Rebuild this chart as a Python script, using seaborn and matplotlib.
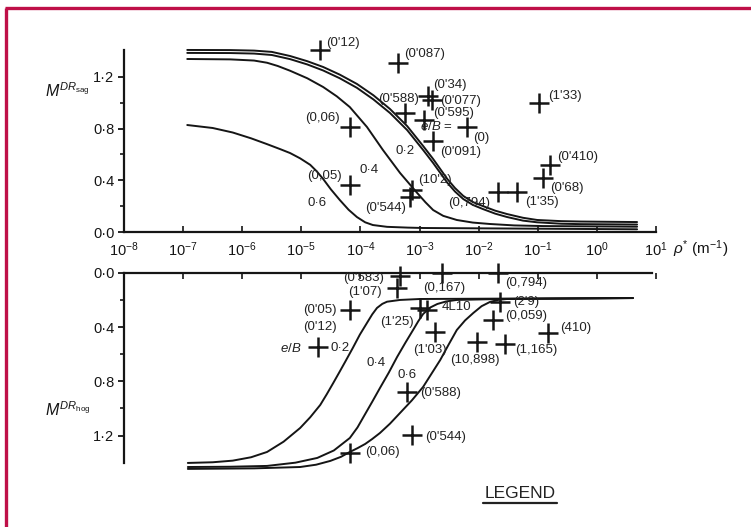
import numpy as np
import pandas as pd
import matplotlib
matplotlib.use("Agg")
import matplotlib.pyplot as plt
from matplotlib.lines import Line2D
from matplotlib.ticker import FixedLocator, FuncFormatter
import seaborn as sns

# ---------------- data (log10 rho*, M values) ----------------
decades = [-8, -7, -6, -5, -4, -3, -2, -1, 0, 1]
xtick_labels = [r"$10^{%d}$" % d for d in decades]

# sagging curves (upper panel)
sag_a_logx = [-6.93, -6.2, -5.8, -5.5, -5.19, -4.9, -4.63, -4.35, -4.06, -3.78, -3.50, -3.21, -2.94,
              -2.77, -2.53, -2.40, -2.26, -2.10, -1.93, -1.72, -1.52, -1.25, -1.01, -0.6, -0.28, 0.68]
sag_a_m = [1.409, 1.408, 1.404, 1.394, 1.362, 1.322, 1.277, 1.218, 1.146, 1.058, 0.952, 0.820, 0.666,
           0.565, 0.410, 0.340, 0.279, 0.232, 0.201, 0.165, 0.139, 0.110, 0.093, 0.084, 0.081, 0.077]
sag_b_logx = [-6.93, -6.2, -5.8, -5.5, -5.19, -4.9, -4.63, -4.35, -4.06, -3.78, -3.50, -3.21, -2.94,
              -2.77, -2.53, -2.40, -2.26, -2.10, -1.93, -1.72, -1.52, -1.25, -1.01, -0.6, -0.28, 0.68]
sag_b_m = [1.386, 1.385, 1.381, 1.370, 1.338, 1.297, 1.250, 1.190, 1.116, 1.026, 0.921, 0.789, 0.635,
           0.534, 0.381, 0.313, 0.255, 0.210, 0.178, 0.142, 0.116, 0.088, 0.075, 0.064, 0.061, 0.058]
sag_c_logx = [-6.93, -6.2, -5.8, -5.58, -5.4, -5.19, -4.9, -4.63, -4.40, -4.18, -3.89, -3.62, -3.33,
              -3.04, -2.90, -2.77, -2.60, -2.37, -2.10, -1.81, -1.40, -0.91, 0.68]
sag_c_m = [1.339, 1.336, 1.327, 1.310, 1.285, 1.248, 1.190, 1.122, 1.050, 0.967, 0.813, 0.635, 0.457,
           0.302, 0.230, 0.170, 0.125, 0.093, 0.073, 0.062, 0.051, 0.046, 0.041]
sag_d_logx = [-6.93, -6.5, -6.16, -5.85, -5.58, -5.35, -5.19, -5.02, -4.85, -4.74, -4.63, -4.50, -4.35,
              -4.20, -4.06, -3.92, -3.79, -3.55, -3.20, -2.94, 0.68]
sag_d_m = [0.828, 0.805, 0.770, 0.725, 0.680, 0.640, 0.611, 0.570, 0.520, 0.470, 0.410, 0.330, 0.248,
           0.172, 0.116, 0.075, 0.054, 0.040, 0.034, 0.031, 0.021]

# hogging curves (lower panel)
hog_a_logx = [-6.92, -6.5, -6.16, -5.85, -5.58, -5.30, -5.02, -4.85, -4.68, -4.57, -4.46, -4.36, -4.26,
              -4.13, -4.01, -3.89, -3.80, -3.72, -3.63, -3.55, -3.33, -2.99, 0.61]
hog_a_m = [1.402, 1.397, 1.385, 1.360, 1.321, 1.245, 1.144, 1.065, 0.974, 0.895, 0.812, 0.735, 0.657,
           0.554, 0.455, 0.369, 0.305, 0.258, 0.228, 0.212, 0.199, 0.192, 0.185]
hog_b_logx = [-6.92, -6.2, -5.58, -5.10, -4.73, -4.45, -4.18, -4.05, -3.92, -3.80, -3.67, -3.52, -3.38,
              -3.24, -3.11, -3.02, -2.94, -2.82, -2.70, -2.55, -2.37, -1.64, 0.61]
hog_b_m = [1.432, 1.430, 1.424, 1.400, 1.365, 1.310, 1.218, 1.140, 1.041, 0.950, 0.849, 0.735, 0.620,
           0.515, 0.421, 0.355, 0.303, 0.255, 0.229, 0.210, 0.199, 0.192, 0.185]
hog_c_logx = [-6.92, -5.8, -5.02, -4.75, -4.51, -4.33, -4.18, -4.05, -3.92, -3.80, -3.67, -3.50, -3.33,
              -3.13, -2.94, -2.80, -2.65, -2.51, -2.37, -2.23, -2.09, -1.95, -1.81, -1.66, -1.52, 0.61]
hog_c_m = [1.446, 1.442, 1.432, 1.415, 1.387, 1.357, 1.321, 1.293, 1.262, 1.225, 1.181, 1.112, 1.033,
           0.940, 0.841, 0.745, 0.642, 0.530, 0.421, 0.350, 0.295, 0.245, 0.214, 0.198, 0.192, 0.185]

# measured points
sag_pts_logx = [-4.68, -3.36, -2.86, -2.79, -3.25, -2.92, -2.20, -2.77, -4.18, -4.18, -3.13, -3.16, -1.67, -1.35, -0.98, -0.79, -0.91]
sag_pts_m = [1.409, 1.308, 1.053, 1.022, 0.921, 0.867, 0.813, 0.704, 0.813, 0.364, 0.325, 0.271, 0.310, 0.310, 0.998, 0.519, 0.418]
hog_pts_logx = [-3.33, -3.38, -2.62, -1.67, -4.18, -4.72, -2.99, -2.87, -2.74, -1.64, -1.76, -0.83, -2.03, -1.55, -3.21, -3.13, -4.18]
hog_pts_m = [0.02, 0.111, 0.0, 0.0, 0.273, 0.546, 0.258, 0.273, 0.435, 0.214, 0.347, 0.443, 0.509, 0.524, 0.878, 1.196, 1.328]

# annotation texts
sag_labels = ["(0'12)", "(0'087)", "(0'34)", "(0'588)", "(0'077)", "(0'595)", "(0)", "(0'091)",
              "(0,06)", "(0,05)", "(10'2)", "(0'544)", "(0,794)", "(1'35)", "(1'33)", "(0'410)",
              "(0'68)", "0·2", "0·4", "0·6", r"$e/B$ ="]
hog_labels = ["(0'583)", "(1'07)", "(0,167)", "(0,794)", "(0'05)", "(0'12)", r"$e/B$", "0·2",
              "(1'25)", "4L10", "(1'03)", "(2'9)", "(0,059)", "(410)", "(10,898)", "(1,165)",
              "0·6", "0·4", "(0'588)", "(0'544)", "(0,06)"]

# ---------------- layout of annotation anchors (log10 x, M) ----------------
sag_label_pos = [(-4.58, 1.463), (-3.26, 1.378), (-2.77, 1.138), (-3.70, 1.029), (-2.65, 1.014),
                 (-2.77, 0.921), (-2.09, 0.728), (-2.65, 0.619), (-4.94, 0.882), (-4.90, 0.433),
                 (-3.03, 0.402), (-3.92, 0.186), (-2.52, 0.224), (-1.21, 0.232), (-0.83, 1.053),
                 (-0.67, 0.580), (-0.79, 0.341), (-3.41, 0.627), (-4.01, 0.480), (-4.90, 0.224),
                 (-2.99, 0.813)]
hog_label_pos = [(-4.29, 0.040), (-4.21, 0.140), (-2.94, 0.111), (-1.55, 0.074), (-4.97, 0.273),
                 (-4.97, 0.399), (-5.36, 0.554), (-4.51, 0.554), (-3.67, 0.362), (-2.62, 0.251),
                 (-3.11, 0.568), (-1.42, 0.214), (-1.55, 0.317), (-0.62, 0.406), (-2.48, 0.642),
                 (-1.38, 0.568), (-3.38, 0.753), (-3.89, 0.664), (-2.99, 0.886), (-2.91, 1.210),
                 (-3.92, 1.321)]

# ---------------- style ----------------
sns.set_style("ticks")
plt.rcParams["font.family"] = ["Liberation Sans", "DejaVu Sans"]
plt.rcParams["mathtext.fontset"] = "custom"
plt.rcParams["mathtext.rm"] = "Liberation Sans"
plt.rcParams["mathtext.it"] = "Liberation Sans:italic"
plt.rcParams["mathtext.bf"] = "Liberation Sans:bold"

INK = "#151515"
fig = plt.figure(figsize=(7.51, 5.27), dpi=100)
fig.patch.set_facecolor("white")
ax1 = fig.add_axes([0.16511, 0.55977, 0.70839, 0.35795])
ax2 = fig.add_axes([0.16511, 0.10664, 0.70839, 0.37538])


def curve(ax, lx, m):
    df = pd.DataFrame({"x": np.power(10.0, lx), "m": m})
    sns.lineplot(data=df, x="x", y="m", ax=ax, color=INK, linewidth=1.4,
                 sort=False, estimator=None, legend=False)


for lx, m in [(sag_a_logx, sag_a_m), (sag_b_logx, sag_b_m), (sag_c_logx, sag_c_m), (sag_d_logx, sag_d_m)]:
    curve(ax1, lx, m)
for lx, m in [(hog_a_logx, hog_a_m), (hog_b_logx, hog_b_m), (hog_c_logx, hog_c_m)]:
    curve(ax2, lx, m)

for ax, lx, m in [(ax1, sag_pts_logx, sag_pts_m), (ax2, hog_pts_logx, hog_pts_m)]:
    pts = pd.DataFrame({"x": np.power(10.0, lx), "m": m})
    sns.scatterplot(data=pts, x="x", y="m", ax=ax, marker="+", s=220, color=INK,
                    linewidth=1.8, legend=False, clip_on=False, zorder=5)

for ax, labels, pos in [(ax1, sag_labels, sag_label_pos), (ax2, hog_labels, hog_label_pos)]:
    for t, (lx, m) in zip(labels, pos):
        ax.text(10 ** lx, m, t, fontsize=9.5, color="#222222", ha="left", va="center",
                clip_on=False, zorder=6)

# axes setup
for ax in (ax1, ax2):
    ax.set_xscale("log")
    ax.set_xlim(1e-8, 1e1)
    ax.set_xlabel("")
    ax.set_ylabel("")
    ax.set_facecolor("none")
    ax.yaxis.set_major_locator(FixedLocator([0.0, 0.4, 0.8, 1.2]))
    ax.yaxis.set_minor_locator(FixedLocator([0.2, 0.6, 1.0]))
    ax.yaxis.set_major_formatter(FuncFormatter(lambda v, p: f"{v:.1f}".replace(".", "·")))
    ax.tick_params(axis="y", which="major", direction="out", length=4, width=1.3,
                   labelsize=10.5, pad=3, colors=INK)
    ax.tick_params(axis="y", which="minor", direction="out", length=3, width=1.2, colors=INK)
    ax.set_xticks(np.power(10.0, decades))
    ax.xaxis.set_minor_locator(FixedLocator([]))
    for s in ax.spines.values():
        s.set_linewidth(1.6)
        s.set_color(INK)

ax1.set_ylim(0, 1.46)
ax1.spines["top"].set_visible(False)
ax1.spines["right"].set_visible(False)
ax1.spines["left"].set_bounds(0, 1.41)
ax1.set_xticklabels(xtick_labels)
ax1.tick_params(axis="x", direction="in", length=4, width=1.2, labelsize=10.5, pad=6, colors=INK)

ax2.set_ylim(1.46, 0)
ax2.spines["bottom"].set_visible(False)
ax2.spines["right"].set_visible(False)
ax2.spines["left"].set_bounds(0, 1.40)
ax2.spines["top"].set_bounds(1e-8, 10 ** 0.93)
ax2.xaxis.tick_top()
ax2.tick_params(axis="x", direction="in", length=4, width=1.2, labeltop=False, labelbottom=False,
                colors=INK)

# axis titles
fig.text(45 / 751, 1 - 91 / 527, r"$M^{DR_{\mathrm{sag}}}$", fontsize=11.5, color=INK,
         ha="left", va="center")
fig.text(45 / 751, 1 - 410 / 527, r"$M^{DR_{\mathrm{hog}}}$", fontsize=11.5, color=INK,
         ha="left", va="center")
fig.text(673 / 751, 1 - 249 / 527, r"$\rho^{*}$ (m$^{-1}$)", fontsize=11, color=INK,
         ha="left", va="center")

# LEGEND heading
fig.text(520 / 751, 1 - 493 / 527, "LEGEND", fontsize=12.5, color="#222222",
         ha="center", va="center")
fig.add_artist(Line2D([483 / 751, 557 / 751], [1 - 503 / 527, 1 - 503 / 527],
                      transform=fig.transFigure, color="#222222", linewidth=1.6))

# crimson frame
frame = "#bf1048"
fig.add_artist(Line2D([5.5 / 751, 5.5 / 751], [0, 1 - 7.5 / 527], transform=fig.transFigure,
                      color=frame, linewidth=2.4, solid_capstyle="butt"))
fig.add_artist(Line2D([4.5 / 751, 1], [1 - 7.5 / 527, 1 - 7.5 / 527], transform=fig.transFigure,
                      color=frame, linewidth=2.4, solid_capstyle="butt"))

fig.savefig("out.png", dpi=100, facecolor="white")
